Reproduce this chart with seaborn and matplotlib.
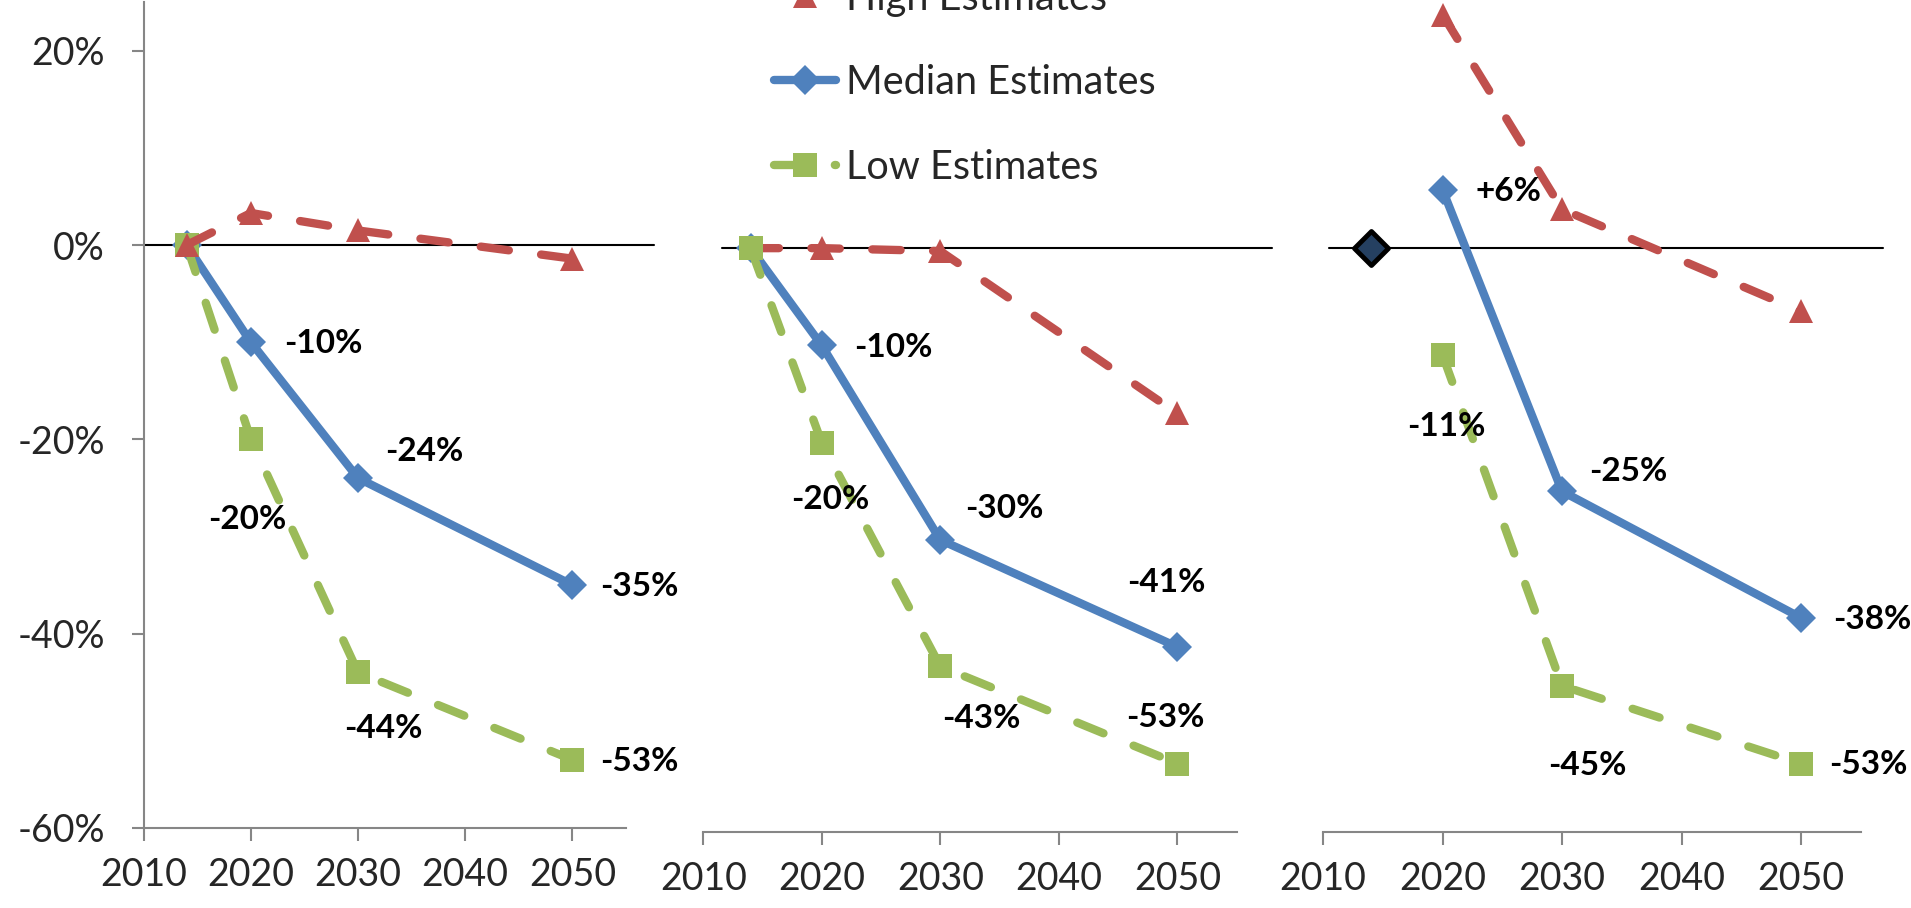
import matplotlib
matplotlib.use("Agg")
import matplotlib.pyplot as plt
import seaborn as sns
from matplotlib.lines import Line2D

# ---- data -------------------------------------------------------------
years_start = [2014, 2020, 2030, 2050]
years_late = [2020, 2030, 2050]

p1_high = [0.0, 0.033, 0.015, -0.014]
p1_median = [0.0, -0.10, -0.24, -0.35]
p1_low = [0.0, -0.20, -0.44, -0.53]

p2_high = [0.0, 0.0, -0.003, -0.17]
p2_median = [0.0, -0.10, -0.30, -0.41]
p2_low = [0.0, -0.20, -0.43, -0.53]

p3_base_year = [2014]
p3_base = [0.0]
p3_high = [0.24, 0.04, -0.065]
p3_median = [0.06, -0.25, -0.38]
p3_low = [-0.11, -0.45, -0.53]

series_names = ["High Estimates", "Median Estimates", "Low Estimates"]
year_ticks = [2010, 2020, 2030, 2040, 2050]
year_tick_labels = ["2010", "2020", "2030", "2040", "2050"]
pct_ticks = [-0.6, -0.4, -0.2, 0.0, 0.2]
pct_tick_labels = ["-60%", "-40%", "-20%", "0%", "20%"]

# ---- styling ----------------------------------------------------------
sns.set_style("white")
plt.rcParams["font.family"] = ["Lato", "DejaVu Sans"]

RED, BLUE, GREEN = "#C0504D", "#4F81BD", "#9BBB59"
LW = 6.0
DASH = (0, (3.4, 3.9))
STYLE = {
    "High Estimates": dict(color=RED, marker="^", ms=17, ls=DASH),
    "Median Estimates": dict(color=BLUE, marker="D", ms=15.5, ls="-"),
    "Low Estimates": dict(color=GREEN, marker="s", ms=17, ls=DASH),
}
GREY = "#868686"
TICK_SIZE = 27

fig = plt.figure(figsize=(19.11, 9.08), dpi=100)
ax1 = fig.add_axes([0.07522, 0.0884, 0.2523, 0.9091])
ax2 = fig.add_axes([0.36797, 0.08403, 0.27917, 0.91046])
ax3 = fig.add_axes([0.69236, 0.08403, 0.28132, 0.91046])


def draw_series(ax, x, y, name, z):
    st = STYLE[name]
    sns.lineplot(x=x, y=y, ax=ax, color=st["color"], marker=st["marker"],
                 markersize=st["ms"], markeredgewidth=0, linewidth=LW,
                 linestyle=st["ls"], dash_capstyle="round",
                 solid_capstyle="round", errorbar=None, legend=False,
                 zorder=z, clip_on=False)


def label_points(ax, x, y, placements):
    for xi, yi, (ha, dx, dy) in zip(x, y, placements):
        txt = f"{round(yi * 100):+d}%" if yi > 0 else f"{round(yi * 100):d}%"
        ax.annotate(txt, (xi, yi), xytext=(dx, dy), textcoords="offset pixels",
                    ha=ha, va="center", fontsize=24, fontweight="bold",
                    color="black", zorder=10, annotation_clip=False)


def style_axis(ax, show_y):
    ax.set_xlim(2010, 2055)
    ax.set_ylim(-0.6, 0.25)
    ax.set_xticks(year_ticks)
    ax.set_xticklabels(year_tick_labels)
    for s in ("top", "right"):
        ax.spines[s].set_visible(False)
    ax.spines["bottom"].set_color(GREY)
    ax.spines["bottom"].set_linewidth(1.5)
    ax.tick_params(axis="x", direction="out", length=9, width=1.5,
                   color=GREY, labelsize=TICK_SIZE, pad=12, bottom=True)
    if show_y:
        ax.spines["left"].set_color(GREY)
        ax.spines["left"].set_linewidth(1.5)
        ax.set_yticks(pct_ticks)
        ax.set_yticklabels(pct_tick_labels)
        ax.tick_params(axis="y", direction="out", length=9, width=1.5,
                       color=GREY, labelsize=TICK_SIZE, pad=19, left=True)
    else:
        ax.spines["left"].set_visible(False)
        ax.set_yticks([])
    ax.set_xlabel("")
    ax.set_ylabel("")
    ax.set_facecolor("none")


# panel 1
ax1.axhline(0, xmin=0.0, xmax=1.059, color="black", lw=1.5, clip_on=False, zorder=1)
draw_series(ax1, years_start, p1_median, "Median Estimates", 3)
draw_series(ax1, years_start, p1_low, "Low Estimates", 4)
draw_series(ax1, years_start, p1_high, "High Estimates", 5)
label_points(ax1, years_start[1:], p1_median[1:],
             [("left", 33, -1), ("left", 27, 27), ("left", 28, -2)])
label_points(ax1, years_start[1:], p1_low[1:],
             [("center", -4, -80), ("center", 25, -56), ("left", 28, -2)])
style_axis(ax1, True)

# panel 2
ax2.axhline(0, xmin=0.036, xmax=1.066, color="black", lw=1.5, clip_on=False, zorder=1)
draw_series(ax2, years_start, p2_median, "Median Estimates", 3)
draw_series(ax2, years_start, p2_high, "High Estimates", 4)
draw_series(ax2, years_start, p2_low, "Low Estimates", 5)
label_points(ax2, years_start[1:], p2_median[1:],
             [("left", 32, -2), ("left", 25, 31), ("center", -11, 64)])
label_points(ax2, years_start[1:], p2_low[1:],
             [("center", 9, -57), ("center", 41, -52), ("center", -12, 46)])
style_axis(ax2, False)

# panel 3
ax3.axhline(0, xmin=0.011, xmax=1.041, color="black", lw=1.5, clip_on=False, zorder=1)
sns.scatterplot(x=p3_base_year, y=p3_base, ax=ax3, marker="D", s=300,
                color="#254061", edgecolor="black", linewidth=3.5, zorder=6,
                legend=False, clip_on=False)
draw_series(ax3, years_late, p3_median, "Median Estimates", 3)
draw_series(ax3, years_late, p3_low, "Low Estimates", 4)
draw_series(ax3, years_late, p3_high, "High Estimates", 5)
label_points(ax3, years_late, p3_median,
             [("left", 33, -2), ("left", 27, 20), ("left", 32, -2)])
label_points(ax3, years_late, p3_low,
             [("center", 4, -71), ("center", 25, -80), ("left", 28, -1)])
style_axis(ax3, False)

# legend
handles = []
for name in series_names:
    st = STYLE[name]
    handles.append(Line2D([], [], color=st["color"], marker=st["marker"],
                          markersize=st["ms"], markeredgewidth=0, linewidth=LW,
                          linestyle=st["ls"], dash_capstyle="round",
                          solid_capstyle="round"))
fig.legend(handles, series_names, loc="center left",
           bbox_to_anchor=(0.4048, 1 - 82.7 / 908), frameon=False,
           fontsize=28.5, handlelength=1.58, handletextpad=0.25,
           labelspacing=1.2, borderpad=0, borderaxespad=0, numpoints=1)

fig.savefig("out.png", dpi=100)
